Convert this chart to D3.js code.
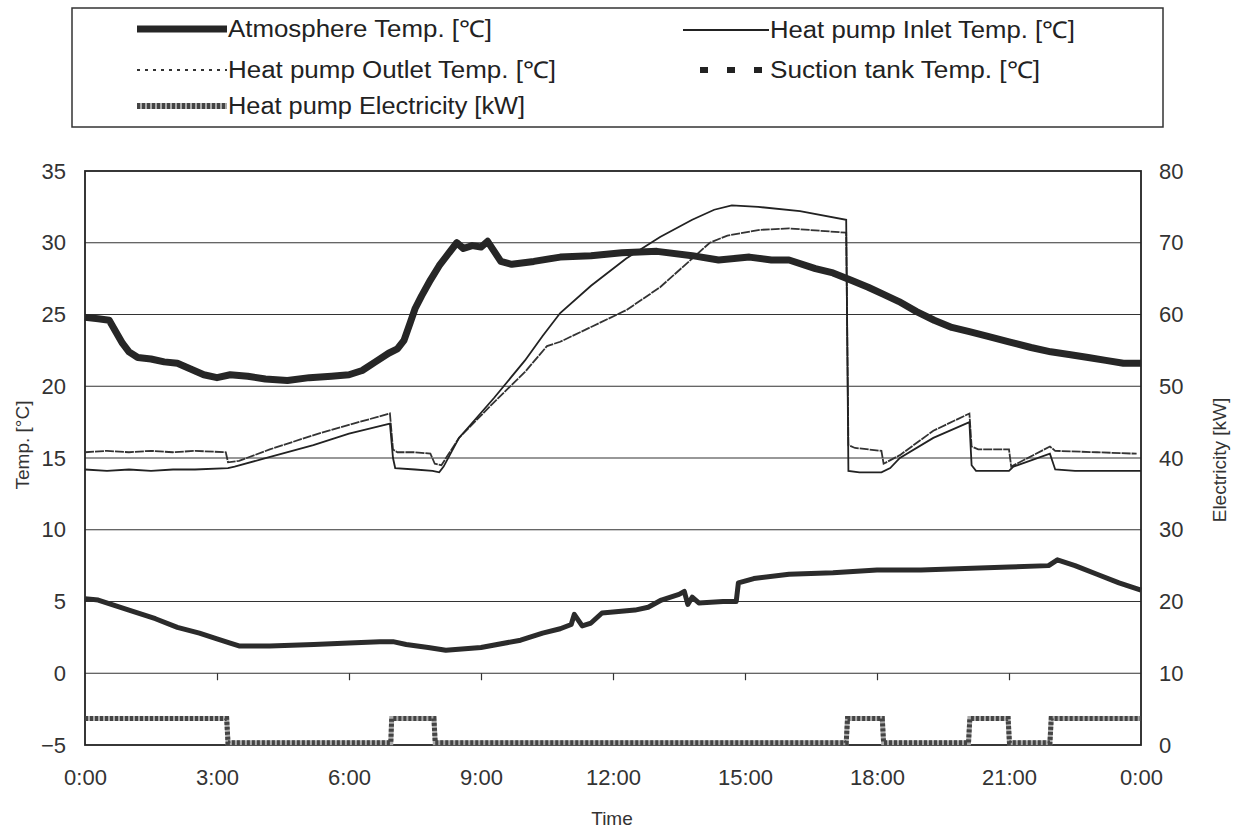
<!DOCTYPE html>
<html>
<head>
<meta charset="utf-8">
<script src="https://cdn.jsdelivr.net/npm/d3@7"></script>
<style>
  body { margin: 0; background: #fff; }
  svg { display: block; }
</style>
</head>
<body>
<svg id="chart"></svg>
<script>
var w = 1239;
var h = 830;

// hours of day
var atmosphere = [[0,24.8],[0.3,24.7],[0.55,24.6],[0.7,23.8],[0.85,23.0],[1.0,22.4],[1.2,22.0],[1.5,21.9],[1.8,21.7],[2.1,21.6],[2.4,21.2],[2.7,20.8],[3.0,20.6],[3.3,20.8],[3.7,20.7],[4.1,20.5],[4.6,20.4],[5.1,20.6],[5.6,20.7],[6.0,20.8],[6.3,21.1],[6.6,21.7],[6.9,22.3],[7.1,22.6],[7.25,23.2],[7.4,24.5],[7.5,25.4],[7.65,26.3],[7.85,27.4],[8.05,28.4],[8.25,29.2],[8.45,30.0],[8.6,29.6],[8.8,29.8],[9.0,29.7],[9.15,30.1],[9.3,29.4],[9.45,28.7],[9.7,28.5],[10.2,28.7],[10.8,29.0],[11.5,29.1],[12.2,29.3],[13.0,29.4],[13.8,29.1],[14.4,28.8],[15.1,29.0],[15.6,28.8],[16.0,28.8],[16.6,28.2],[17.0,27.9],[17.4,27.4],[17.8,26.9],[18.15,26.4],[18.5,25.9],[18.9,25.2],[19.3,24.6],[19.7,24.1],[20.1,23.8],[20.5,23.5],[21.0,23.1],[21.5,22.7],[21.95,22.4],[22.4,22.2],[22.8,22.0],[23.2,21.8],[23.6,21.6],[24,21.6]];

var inlet = [[0,14.2],[0.5,14.1],[1,14.2],[1.5,14.1],[2,14.2],[2.5,14.2],[3.25,14.3],[3.4,14.4],[4,14.9],[5.19,15.9],[6,16.7],[6.93,17.4],[7.0,15.0],[7.05,14.3],[7.5,14.2],[7.9,14.1],[8.05,14.0],[8.15,14.4],[8.5,16.4],[9.3,19.2],[10.0,21.8],[10.4,23.5],[10.8,25.1],[11.5,27.0],[12.3,28.9],[13.07,30.4],[13.8,31.6],[14.3,32.3],[14.7,32.6],[15.3,32.5],[16.25,32.2],[17.3,31.6],[17.35,14.1],[17.6,14.0],[18.1,14.0],[18.3,14.3],[18.52,15.0],[19.28,16.4],[20.1,17.5],[20.15,14.5],[20.25,14.1],[21.0,14.1],[21.1,14.4],[21.93,15.3],[22.05,14.2],[22.5,14.1],[24,14.1]];

var outlet = [[0,15.4],[0.5,15.5],[1,15.4],[1.5,15.5],[2,15.4],[2.5,15.5],[3.2,15.4],[3.25,14.7],[3.5,14.8],[4.2,15.6],[5.2,16.6],[6.1,17.4],[6.93,18.1],[7.0,15.6],[7.1,15.4],[7.5,15.4],[7.85,15.3],[7.95,14.6],[8.1,14.5],[8.5,16.4],[9.3,18.9],[10.0,21.0],[10.5,22.8],[10.8,23.1],[11.55,24.2],[12.3,25.3],[13.07,26.9],[13.8,28.9],[14.2,30.0],[14.6,30.5],[15.34,30.9],[16.0,31.0],[17.3,30.7],[17.35,15.9],[17.5,15.7],[18.1,15.5],[18.15,14.6],[18.52,15.2],[19.28,16.9],[20.1,18.1],[20.15,15.8],[20.3,15.6],[21.0,15.6],[21.05,14.4],[21.93,15.8],[22.05,15.5],[23,15.4],[23.9,15.3]];

var suction = [[0,5.2],[0.3,5.1],[1,4.4],[1.6,3.8],[2.1,3.2],[2.6,2.8],[3.0,2.4],[3.3,2.1],[3.5,1.9],[4.2,1.9],[5.2,2.0],[6.0,2.1],[6.7,2.2],[7.0,2.2],[7.3,2.0],[7.8,1.8],[8.2,1.6],[9.0,1.8],[9.9,2.3],[10.4,2.8],[10.8,3.1],[11.05,3.4],[11.12,4.1],[11.3,3.3],[11.5,3.5],[11.75,4.2],[12.5,4.4],[12.8,4.6],[13.1,5.1],[13.5,5.5],[13.62,5.7],[13.7,4.8],[13.8,5.3],[13.95,4.9],[14.5,5.0],[14.8,5.0],[14.85,6.3],[15.2,6.6],[16.0,6.9],[17.0,7.0],[18.0,7.2],[19.0,7.2],[20.0,7.3],[21.0,7.4],[21.9,7.5],[22.1,7.9],[22.5,7.5],[23.0,6.9],[23.5,6.3],[24,5.8]];

// kW, right axis
var electricity = [[0,3.7],[3.22,3.7],[3.25,0.3],[6.95,0.3],[6.97,3.7],[7.93,3.7],[7.96,0.3],[17.3,0.3],[17.33,3.7],[18.12,3.7],[18.15,0.3],[20.08,0.3],[20.11,3.7],[20.98,3.7],[21.01,0.3],[21.93,0.3],[21.96,3.7],[24,3.7]];

var timeTicks = [0,3,6,9,12,15,18,21,24];
var tempTicks = [-5,0,5,10,15,20,25,30,35];
var kwTicks = [0,10,20,30,40,50,60,70,80];

var legendNames = ["Atmosphere Temp. [\u2103]", "Heat pump Inlet Temp. [\u2103]",
                   "Heat pump Outlet Temp. [\u2103]", "Suction tank Temp. [\u2103]",
                   "Heat pump Electricity [kW]"];

var pL = 85, pR = 1141, pT = 171, pB = 745;

var svg = d3.select("#chart").attr("width", w).attr("height", h)
    .style("font-family", "Liberation Sans, Arial, sans-serif");

var x = d3.scaleLinear().domain([0, 24]).range([pL, pR]);
var yT = d3.scaleLinear().domain([-5, 35]).range([pB, pT]);
var yE = d3.scaleLinear().domain([0, 80]).range([pB, pT]);

// grid
svg.append("g").selectAll("line")
    .data(tempTicks.filter(function(d) { return d > -5 && d < 35; }))
    .enter().append("line")
    .attr("x1", pL).attr("x2", pR)
    .attr("y1", function(d) { return yT(d); })
    .attr("y2", function(d) { return yT(d); })
    .attr("stroke", "#333").attr("stroke-width", 1.2);

// tick marks on the zero line
svg.append("g")
    .attr("transform", "translate(0," + yT(0) + ")")
    .call(d3.axisBottom(x).tickValues(timeTicks.slice(1, -1)).tickSize(7).tickFormat(""))
    .call(function(g) { g.select(".domain").remove(); })
    .selectAll("line").attr("stroke", "#333").attr("stroke-width", 1.2);

svg.append("rect")
    .attr("x", pL).attr("y", pT)
    .attr("width", pR - pL).attr("height", pB - pT)
    .attr("fill", "none").attr("stroke", "#222").attr("stroke-width", 1.8);

// axes labels
var xAxis = svg.append("g")
    .attr("transform", "translate(0," + pB + ")")
    .call(d3.axisBottom(x).tickValues(timeTicks).tickSize(0).tickPadding(24)
        .tickFormat(function(d) { return (d % 24) + ":00"; }));
var yAxisL = svg.append("g")
    .attr("transform", "translate(" + pL + ",0)")
    .call(d3.axisLeft(yT).tickValues(tempTicks).tickSize(0).tickPadding(19));
var yAxisR = svg.append("g")
    .attr("transform", "translate(" + pR + ",0)")
    .call(d3.axisRight(yE).tickValues(kwTicks).tickSize(0).tickPadding(18));

[xAxis, yAxisL, yAxisR].forEach(function(g) {
    g.select(".domain").remove();
    g.selectAll("text").attr("font-size", 22).attr("fill", "#333")
        .style("font-family", "Liberation Sans, Arial, sans-serif");
});

svg.append("text").attr("x", 612).attr("y", 825)
    .attr("text-anchor", "middle").attr("font-size", 19).attr("fill", "#333")
    .text("Time");
svg.append("text")
    .attr("transform", "translate(29,445)rotate(-90)")
    .attr("text-anchor", "middle").attr("font-size", 19).attr("fill", "#333")
    .text("Temp. [\u00b0C]");
svg.append("text")
    .attr("transform", "translate(1226,460)rotate(-90)")
    .attr("text-anchor", "middle").attr("font-size", 19).attr("fill", "#333")
    .text("Electricity [kW]");

// series
var lineT = d3.line().x(function(d) { return x(d[0]); }).y(function(d) { return yT(d[1]); });
var lineE = d3.line().x(function(d) { return x(d[0]); }).y(function(d) { return yE(d[1]); });

svg.append("path").datum(electricity).attr("d", lineE)
    .attr("fill", "none").attr("stroke", "#aaa").attr("stroke-width", 5);
svg.append("path").datum(electricity).attr("d", lineE)
    .attr("fill", "none").attr("stroke", "#444").attr("stroke-width", 5)
    .attr("stroke-dasharray", "3,2");

svg.append("path").datum(suction).attr("d", lineT)
    .attr("fill", "none").attr("stroke", "#2b2b2b").attr("stroke-width", 5)
    .attr("stroke-linejoin", "round");

svg.append("path").datum(outlet).attr("d", lineT)
    .attr("fill", "none").attr("stroke", "#333").attr("stroke-width", 1.8)
    .attr("stroke-dasharray", "9,1");

svg.append("path").datum(inlet).attr("d", lineT)
    .attr("fill", "none").attr("stroke", "#222").attr("stroke-width", 1.8);

svg.append("path").datum(atmosphere).attr("d", lineT)
    .attr("fill", "none").attr("stroke", "#262626").attr("stroke-width", 7)
    .attr("stroke-linejoin", "round");

// legend
var lg = svg.append("g");
lg.append("rect").attr("x", 72).attr("y", 8).attr("width", 1091).attr("height", 119)
    .attr("fill", "#fff").attr("stroke", "#333").attr("stroke-width", 1.5);

var legendPos = [
    {x1: 137, x2: 227, y: 29, tx: 228, tw: 264},
    {x1: 683, x2: 769, y: 30, tx: 770, tw: 305},
    {x1: 137, x2: 227, y: 70, tx: 228, tw: 328},
    {x1: 700, x2: 762, y: 70, tx: 770, tw: 270},
    {x1: 137, x2: 227, y: 106, tx: 228, tw: 297}
];
var legendStyle = [
    {stroke: "#262626", width: 7, dash: null},
    {stroke: "#222", width: 1.8, dash: null},
    {stroke: "#333", width: 1.8, dash: "3,5"},
    {stroke: "#222", width: 6, dash: "8,19"},
    {stroke: "#aaa", width: 6, dash: null}
];

legendNames.forEach(function(name, i) {
    var p = legendPos[i], s = legendStyle[i];
    lg.append("line").attr("x1", p.x1).attr("x2", p.x2).attr("y1", p.y).attr("y2", p.y)
        .attr("stroke", s.stroke).attr("stroke-width", s.width)
        .attr("stroke-dasharray", s.dash);
    if (i == 4) {
        lg.append("line").attr("x1", p.x1).attr("x2", p.x2).attr("y1", p.y).attr("y2", p.y)
            .attr("stroke", "#444").attr("stroke-width", 6).attr("stroke-dasharray", "3,2");
    }
    lg.append("text").attr("x", p.tx).attr("y", p.y + 8)
        .attr("font-size", 23).attr("fill", "#222")
        .attr("textLength", p.tw).attr("lengthAdjust", "spacingAndGlyphs")
        .style("font-family", "Liberation Sans Narrow, Liberation Sans, Arial, sans-serif")
        .text(name);
});
</script>
</body>
</html>
